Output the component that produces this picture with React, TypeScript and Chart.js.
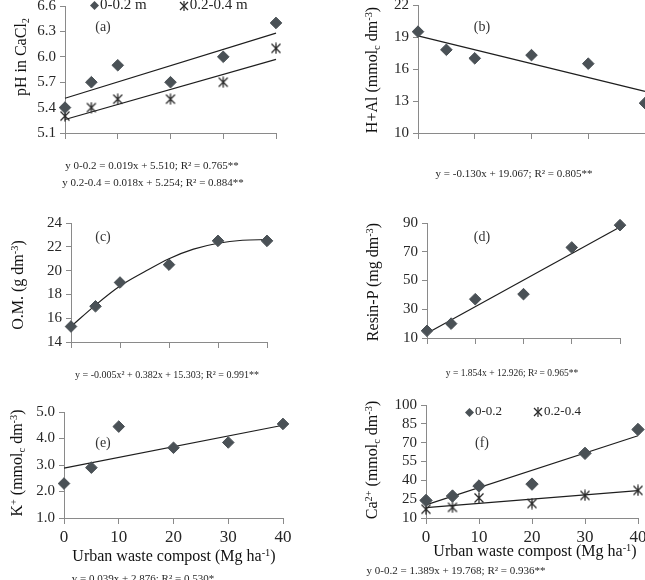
import React, { useEffect, useRef } from "react";
import { Chart, registerables } from "chart.js";
Chart.register(...registerables);

// ---------- data ----------
const X_LEVELS = [0, 5, 10, 20, 30, 40];
const X_TICKS = [0, 10, 20, 30, 40];
const FIT_X = [0, 40];

const PH_TICKS = [5.1, 5.4, 5.7, 6.0, 6.3, 6.6];
const PH_0_20 = [5.4, 5.7, 5.9, 5.7, 6.0, 6.4];
const PH_20_40 = [5.3, 5.4, 5.5, 5.5, 5.7, 6.1];
const PH_FIT_0_20 = [5.51, 6.28];
const PH_FIT_20_40 = [5.26, 5.97];

const HAL_TICKS = [10, 13, 16, 19, 22];
const HAL = [19.5, 17.8, 17.0, 17.3, 16.5, 12.8];
const HAL_FIT = [19.1, 13.9];

const OM_TICKS = [14, 16, 18, 20, 22, 24];
const OM = [15.3, 17.0, 19.0, 20.5, 22.5, 22.5];
const OM_CURVE_X = [0, 5, 10, 15, 20, 25, 30, 35, 40];
const OM_CURVE = [15.3, 17.1, 18.7, 19.9, 21.0, 21.8, 22.3, 22.55, 22.6];

const P_TICKS = [10, 30, 50, 70, 90];
const P = [15, 20, 37, 40.5, 73, 88.5];
const P_FIT = [13.3, 87.2];

const K_TICKS = [1.0, 2.0, 3.0, 4.0, 5.0];
const K = [2.3, 2.9, 4.45, 3.65, 3.85, 4.55];
const K_FIT = [2.88, 4.5];

const CA_TICKS = [10, 25, 40, 55, 70, 85, 100];
const CA_0_20 = [24, 27.5, 35.5, 37, 61.5, 80.5];
const CA_20_40 = [17, 18.5, 26, 21.5, 28, 32];
const CA_FIT_0_20 = [20.5, 75.5];
const CA_FIT_20_40 = [18.3, 31.8];

// ---------- style ----------
const FONT = "'Liberation Serif', 'Times New Roman', serif";
const MARK = "#4a5156";
const STAR = "#2a2a2a";
const AXIS = "#8a8a8a";
const TXT = "#262626";
const CW = 660, CH = 600, YW = 50, XH = 40;

const pts = (xs: number[], ys: number[]) => xs.map((x, i) => ({ x, y: ys[i] }));

function makeStar(size: number, color: string) {
  const c = document.createElement("canvas");
  c.width = size; c.height = size;
  const g = c.getContext("2d")!;
  g.strokeStyle = color; g.lineWidth = 1.3;
  const m = 1.5, s = size, h = s / 2;
  g.beginPath();
  g.moveTo(m, m); g.lineTo(s - m, s - m);
  g.moveTo(s - m, m); g.lineTo(m, s - m);
  g.moveTo(h, 0.5); g.lineTo(h, s - 0.5);
  g.stroke();
  return c;
}

const diamondSet = (ys: number[], r = 5.8) => ({
  data: pts(X_LEVELS, ys), showLine: false, pointStyle: "rectRot", pointRadius: r,
  backgroundColor: MARK, borderColor: MARK, borderWidth: 1, clip: false,
});
const starSet = (ys: number[], img: HTMLCanvasElement) => ({
  data: pts(X_LEVELS, ys), showLine: false, pointStyle: img, pointRadius: 6, clip: false,
});
const lineSet = (xs: number[], ys: number[], curve = false) => ({
  data: pts(xs, ys), showLine: true, pointRadius: 0, borderColor: "#1e1e1e", borderWidth: 1.2,
  tension: curve ? 0.4 : 0, cubicInterpolationMode: curve ? "monotone" : "default", clip: false,
});

type Spec = {
  area: [number, number, number, number];
  yTicks: number[];
  dec: number;
  showX: boolean;
  datasets: any[];
};

function makeConfig(s: Spec): any {
  const [l, t, r, b] = s.area;
  const yMin = s.yTicks[0], yMax = s.yTicks[s.yTicks.length - 1];
  return {
    type: "scatter",
    data: { datasets: s.datasets },
    options: {
      animation: false, responsive: false, events: [],
      layout: { autoPadding: false, padding: { left: l - YW, top: t, right: CW - r, bottom: CH - b - XH } },
      plugins: { legend: { display: false }, tooltip: { enabled: false } },
      scales: {
        x: {
          type: "linear", min: 0, max: 40,
          afterBuildTicks: (sc: any) => { sc.ticks = X_TICKS.map((v) => ({ value: v })); },
          ticks: { color: s.showX ? TXT : "rgba(0,0,0,0)", font: { family: FONT, size: 17 }, padding: 3, maxRotation: 0, autoSkip: false },
          grid: { display: true, drawOnChartArea: false, drawTicks: true, tickLength: 6, color: AXIS, lineWidth: 1 },
          border: { display: true, color: AXIS, width: 1 },
          afterFit: (sc: any) => { sc.height = XH; sc.paddingLeft = 0; sc.paddingRight = 0; },
        },
        y: {
          type: "linear", min: yMin, max: yMax,
          afterBuildTicks: (sc: any) => { sc.ticks = s.yTicks.map((v) => ({ value: v })); },
          ticks: { color: TXT, font: { family: FONT, size: 15 }, padding: 4, autoSkip: false, callback: (v: any) => Number(v).toFixed(s.dec) },
          grid: { display: true, drawOnChartArea: false, drawTicks: true, tickLength: 5, color: AXIS, lineWidth: 1 },
          border: { display: true, color: AXIS, width: 1 },
          afterFit: (sc: any) => { sc.width = YW; sc.paddingTop = 0; sc.paddingBottom = 0; },
        },
      },
    },
  };
}

const abs = (x: number, y: number, extra: React.CSSProperties = {}): React.CSSProperties => ({
  position: "absolute", left: x, top: y, transform: "translate(-50%, -50%)", whiteSpace: "nowrap",
  fontFamily: FONT, color: TXT, lineHeight: 1, ...extra,
});

const subS: React.CSSProperties = { fontSize: "0.65em", verticalAlign: "-0.25em" };
const supS: React.CSSProperties = { fontSize: "0.65em", verticalAlign: "0.55em" };

function YTitle({ x, y, children }: { x: number; y: number; children: React.ReactNode }) {
  return (
    <div style={{ ...abs(x, y), transform: "translate(-50%, -50%) rotate(-90deg)", fontSize: 16, color: "#111" }}>
      {children}
    </div>
  );
}

function Diamond({ size }: { size: number }) {
  return (
    <svg width={size} height={size} style={{ display: "inline-block", verticalAlign: "middle" }}>
      <polygon points={`${size / 2},0 ${size},${size / 2} ${size / 2},${size} 0,${size / 2}`} fill={MARK} />
    </svg>
  );
}
function StarIcon({ size }: { size: number }) {
  const s = size, m = 1, h = s / 2;
  return (
    <svg width={size} height={size} style={{ display: "inline-block", verticalAlign: "middle" }}>
      <g stroke={STAR} strokeWidth={1.2}>
        <line x1={m} y1={m} x2={s - m} y2={s - m} />
        <line x1={s - m} y1={m} x2={m} y2={s - m} />
        <line x1={h} y1={0} x2={h} y2={s} />
      </g>
    </svg>
  );
}

export default function App() {
  const refs = useRef<(HTMLCanvasElement | null)[]>([]);

  useEffect(() => {
    const star = makeStar(12, STAR);
    const specs: Spec[] = [
      {
        area: [65, 6, 276, 133], yTicks: PH_TICKS, dec: 1, showX: false,
        datasets: [diamondSet(PH_0_20), starSet(PH_20_40, star), lineSet(FIT_X, PH_FIT_0_20), lineSet(FIT_X, PH_FIT_20_40)],
      },
      {
        area: [418, 5, 645, 133], yTicks: HAL_TICKS, dec: 0, showX: false,
        datasets: [diamondSet(HAL), lineSet(FIT_X, HAL_FIT)],
      },
      {
        area: [71, 223, 267, 342], yTicks: OM_TICKS, dec: 0, showX: false,
        datasets: [diamondSet(OM), lineSet(OM_CURVE_X, OM_CURVE, true)],
      },
      {
        area: [427, 223, 620, 338], yTicks: P_TICKS, dec: 0, showX: false,
        datasets: [diamondSet(P), lineSet(FIT_X, P_FIT)],
      },
      {
        area: [64, 412, 283, 518], yTicks: K_TICKS, dec: 1, showX: true,
        datasets: [diamondSet(K), lineSet(FIT_X, K_FIT)],
      },
      {
        area: [426, 405, 638, 518], yTicks: CA_TICKS, dec: 0, showX: true,
        datasets: [diamondSet(CA_0_20, 6.2), starSet(CA_20_40, star), lineSet(FIT_X, CA_FIT_0_20), lineSet(FIT_X, CA_FIT_20_40)],
      },
    ];
    const charts = specs.map((s, i) => new Chart(refs.current[i]!, makeConfig(s)));
    return () => charts.forEach((c) => c.destroy());
  }, []);

  return (
    <div style={{ position: "absolute", left: 0, top: 0, width: 645, height: 580, overflow: "hidden", background: "#fff" }}>
      {[0, 1, 2, 3, 4, 5].map((i) => (
        <canvas key={i} ref={(el) => { refs.current[i] = el; }} width={CW} height={CH}
          style={{ position: "absolute", left: 0, top: 0, width: CW, height: CH }} />
      ))}

      {/* y-axis titles */}
      <YTitle x={22} y={57}>pH in CaCl<span style={subS}>2</span></YTitle>
      <YTitle x={373} y={70}>H+Al (mmol<span style={subS}>c</span> dm<span style={supS}>-3</span>)</YTitle>
      <YTitle x={18} y={285}>O.M. (g dm<span style={supS}>-3</span>)</YTitle>
      <YTitle x={373} y={282}>Resin-P (mg dm<span style={supS}>-3</span>)</YTitle>
      <YTitle x={18} y={463}>K<span style={supS}>+</span> (mmol<span style={subS}>c</span> dm<span style={supS}>-3</span>)</YTitle>
      <YTitle x={373} y={460}>Ca<span style={supS}>2+</span> (mmol<span style={subS}>c</span> dm<span style={supS}>-3</span>)</YTitle>

      {/* x-axis titles */}
      <div style={abs(174, 556, { fontSize: 16, color: "#111" })}>Urban waste compost (Mg ha<span style={supS}>-1</span>)</div>
      <div style={abs(535, 551, { fontSize: 16, color: "#111" })}>Urban waste compost (Mg ha<span style={supS}>-1</span>)</div>

      {/* panel labels */}
      <div style={abs(103, 27, { fontSize: 14, color: "#333" })}>(a)</div>
      <div style={abs(482, 27, { fontSize: 14, color: "#333" })}>(b)</div>
      <div style={abs(103, 237, { fontSize: 14, color: "#333" })}>(c)</div>
      <div style={abs(482, 237, { fontSize: 14, color: "#333" })}>(d)</div>
      <div style={abs(103, 443, { fontSize: 14, color: "#333" })}>(e)</div>
      <div style={abs(482, 443, { fontSize: 14, color: "#333" })}>(f)</div>

      {/* legends */}
      <div style={{ position: "absolute", left: 90, top: -3, fontFamily: FONT, fontSize: 15, color: TXT, whiteSpace: "nowrap", lineHeight: 1 }}>
        <Diamond size={9} /><span style={{ marginLeft: 1 }}>0-0.2 m</span>
        <span style={{ display: "inline-block", width: 32 }} />
        <StarIcon size={10} /><span style={{ marginLeft: 1 }}>0.2-0.4 m</span>
      </div>
      <div style={{ position: "absolute", left: 465, top: 404, fontFamily: FONT, fontSize: 13, color: TXT, whiteSpace: "nowrap", lineHeight: 1 }}>
        <Diamond size={9} /><span style={{ marginLeft: 1 }}>0-0.2</span>
        <span style={{ display: "inline-block", width: 31 }} />
        <StarIcon size={10} /><span style={{ marginLeft: 1 }}>0.2-0.4</span>
      </div>

      {/* regression equations */}
      <div style={abs(152, 165, { fontSize: 11 })}>y 0-0.2 = 0.019x + 5.510; R² = 0.765**</div>
      <div style={abs(153, 182, { fontSize: 11 })}>y 0.2-0.4 = 0.018x + 5.254; R² = 0.884**</div>
      <div style={abs(514, 173, { fontSize: 11 })}>y = -0.130x + 19.067; R² = 0.805**</div>
      <div style={abs(167, 375, { fontSize: 10 })}>y = -0.005x² + 0.382x + 15.303; R² = 0.991**</div>
      <div style={abs(512, 374, { fontSize: 9.5 })}>y = 1.854x + 12.926; R² = 0.965**</div>
      <div style={abs(143, 578, { fontSize: 11 })}>y = 0.039x + 2.876; R² = 0.530*</div>
      <div style={abs(456, 570, { fontSize: 11 })}>y 0-0.2 = 1.389x + 19.768; R² = 0.936**</div>
      <div style={abs(456, 586, { fontSize: 11 })}>y 0.2-0.4 = 0.341x + 18.212; R² = 0.791**</div>
    </div>
  );
}
